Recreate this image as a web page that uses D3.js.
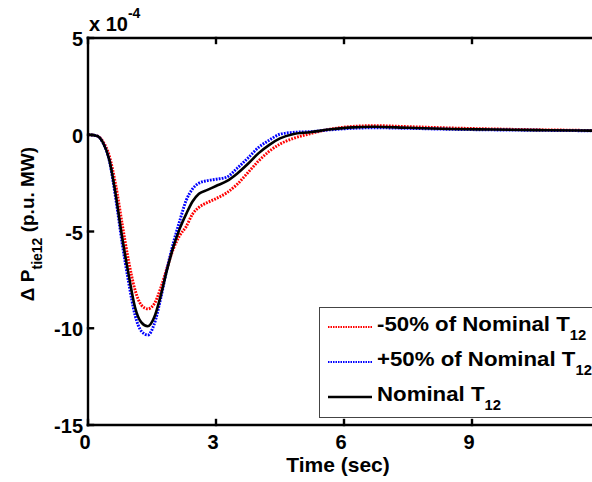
<!DOCTYPE html>
<html>
<head>
<meta charset="utf-8">
<script src="https://cdn.jsdelivr.net/npm/d3@7"></script>
<style>
  html, body { margin: 0; padding: 0; background: #fff; }
  svg { display: block; }
  text { font-family: "Liberation Sans", Arial, sans-serif; font-weight: bold; fill: #000; }
</style>
</head>
<body>
<svg id="chart" width="592" height="482"></svg>
<script>
// Time samples (sec)
const time = [0, 0.2, 0.35, 0.5, 0.65, 0.8, 0.95, 1.1, 1.25, 1.4, 1.55, 1.7, 1.85, 2.0, 2.15, 2.3,
  2.45, 2.6, 2.8, 3.0, 3.25, 3.5, 3.75, 4.0, 4.25, 4.5, 4.8, 5.2, 5.7, 6.2, 6.7, 7.5, 8.5, 9.5, 10.5, 11.5, 12];

// Tie-line power deviation, units of 1e-4 p.u. MW
const minus50 = [0, -0.05, -0.35, -1.1, -2.6, -4.6, -6.5, -8.0, -8.8, -9.0, -8.75, -7.95, -6.9, -5.9, -5.2, -4.75,
  -4.1, -3.75, -3.5, -3.3, -3.0, -2.55, -1.95, -1.35, -0.85, -0.48, -0.2, 0.05, 0.3, 0.43, 0.47, 0.42, 0.35, 0.3, 0.26, 0.23, 0.21];
const plus50 = [0, -0.05, -0.42, -1.35, -3.3, -5.6, -7.6, -9.3, -10.15, -10.35, -9.8, -8.5, -6.95, -5.6, -4.45, -3.4,
  -2.8, -2.5, -2.37, -2.3, -2.19, -1.72, -1.2, -0.65, -0.28, 0.03, 0.12, 0.16, 0.26, 0.33, 0.36, 0.33, 0.28, 0.25, 0.23, 0.21, 0.2];
const nominal = [0, -0.05, -0.4, -1.3, -3.1, -5.3, -7.2, -8.9, -9.7, -9.9, -9.45, -8.35, -7.0, -5.8, -4.85, -4.1,
  -3.45, -3.05, -2.85, -2.65, -2.4, -2.0, -1.5, -0.95, -0.52, -0.19, 0.03, 0.13, 0.28, 0.38, 0.41, 0.36, 0.3, 0.27, 0.24, 0.22, 0.21];

const xTicks = [0, 3, 6, 9, 12];
const xTickLabels = ["0", "3", "6", "9"];
const yTicks = [5, 0, -5, -10, -15];

const seriesNames = ["-50% of Nominal T", "+50% of Nominal T", "Nominal T"];
const seriesColors = ["#ff0000", "#0000ff", "#000000"];

const svg = d3.select("#chart");

const x = d3.scaleLinear().domain([0, 12]).range([88, 600]);
const y = d3.scaleLinear().domain([-15, 5]).range([425, 38]);

// Curves
const series = [
  { name: seriesNames[0], color: seriesColors[0], values: minus50, dash: "1.8,1.2" },
  { name: seriesNames[1], color: seriesColors[1], values: plus50, dash: "1.8,1.2" },
  { name: seriesNames[2], color: seriesColors[2], values: nominal, dash: null }
];

const line = d3.line()
  .x(d => x(d[0]))
  .y(d => y(d[1]))
  .curve(d3.curveMonotoneX);

svg.append("g").selectAll("path")
  .data(series)
  .join("path")
  .attr("d", s => line(time.map((t, i) => [t, s.values[i]])))
  .attr("fill", "none")
  .attr("stroke", s => s.color)
  .attr("stroke-width", s => s.dash ? 2.9 : 2.6)
  .attr("stroke-dasharray", s => s.dash);

// Axes box with inward ticks
const tickLen = 5;
const axisG = svg.append("g");
axisG.append("line").attr("x1", x(0)).attr("x2", 600).attr("y1", y(-15)).attr("y2", y(-15));
axisG.append("line").attr("x1", x(0)).attr("x2", 600).attr("y1", y(5)).attr("y2", y(5));
axisG.append("line").attr("x1", x(0)).attr("x2", x(0)).attr("y1", y(5)).attr("y2", y(-15));
xTicks.forEach(t => {
  axisG.append("line").attr("x1", x(t)).attr("x2", x(t)).attr("y1", y(-15)).attr("y2", y(-15) - tickLen);
  axisG.append("line").attr("x1", x(t)).attr("x2", x(t)).attr("y1", y(5)).attr("y2", y(5) + tickLen);
});
yTicks.forEach(v => {
  axisG.append("line").attr("x1", x(0)).attr("x2", x(0) + tickLen).attr("y1", y(v)).attr("y2", y(v));
});
axisG.selectAll("line").attr("stroke", "#000").attr("stroke-width", 2.4).attr("stroke-linecap", "square");

// Tick labels
svg.append("g").selectAll("text")
  .data(xTickLabels)
  .join("text")
  .attr("x", d => x(+d) - 3)
  .attr("y", 449)
  .attr("text-anchor", "middle")
  .style("font-size", "20px")
  .text(d => d);

svg.append("g").selectAll("text")
  .data(yTicks)
  .join("text")
  .attr("x", 83)
  .attr("y", d => y(d) + 8)
  .attr("text-anchor", "end")
  .style("font-size", "20px")
  .text(d => d);

// Exponent marker
const expo = svg.append("text").attr("x", 89).attr("y", 31).style("font-size", "20px");
expo.append("tspan").text("x 10");
expo.append("tspan").attr("dy", -13).style("font-size", "14px").text("-4");

// Axis titles
svg.append("text")
  .attr("x", x(6) - 6)
  .attr("y", 472)
  .attr("text-anchor", "middle")
  .style("font-size", "21px")
  .text("Time (sec)");

const yTitle = svg.append("text")
  .attr("transform", "translate(34,224) rotate(-90)")
  .attr("text-anchor", "middle")
  .style("font-size", "19px");
yTitle.append("tspan").text("\u0394 P");
yTitle.append("tspan").attr("dy", 8).style("font-size", "14px").text("tie12");
yTitle.append("tspan").attr("dy", -8).text(" (p.u. MW)");

// Legend
const legend = svg.append("g");
legend.append("rect")
  .attr("x", 319.5).attr("y", 307.5)
  .attr("width", 290).attr("height", 110)
  .attr("fill", "#fff")
  .attr("stroke", "#444")
  .attr("stroke-width", 1);

const legendRows = [327, 362, 397];
series.forEach((s, i) => {
  const yy = legendRows[i];
  legend.append("line")
    .attr("x1", 328).attr("x2", 372)
    .attr("y1", yy).attr("y2", yy)
    .attr("stroke", s.color)
    .attr("stroke-width", s.dash ? 1.8 : 2.4)
    .attr("stroke-dasharray", s.dash ? "1.5,1" : null);
  const t = legend.append("text")
    .attr("transform", `translate(377,${yy + 4}) scale(1.06,1)`)
    .style("font-size", "21px");
  t.append("tspan").text(s.name);
  t.append("tspan").attr("dy", 9).style("font-size", "14px").text("12");
});
</script>
</body>
</html>
